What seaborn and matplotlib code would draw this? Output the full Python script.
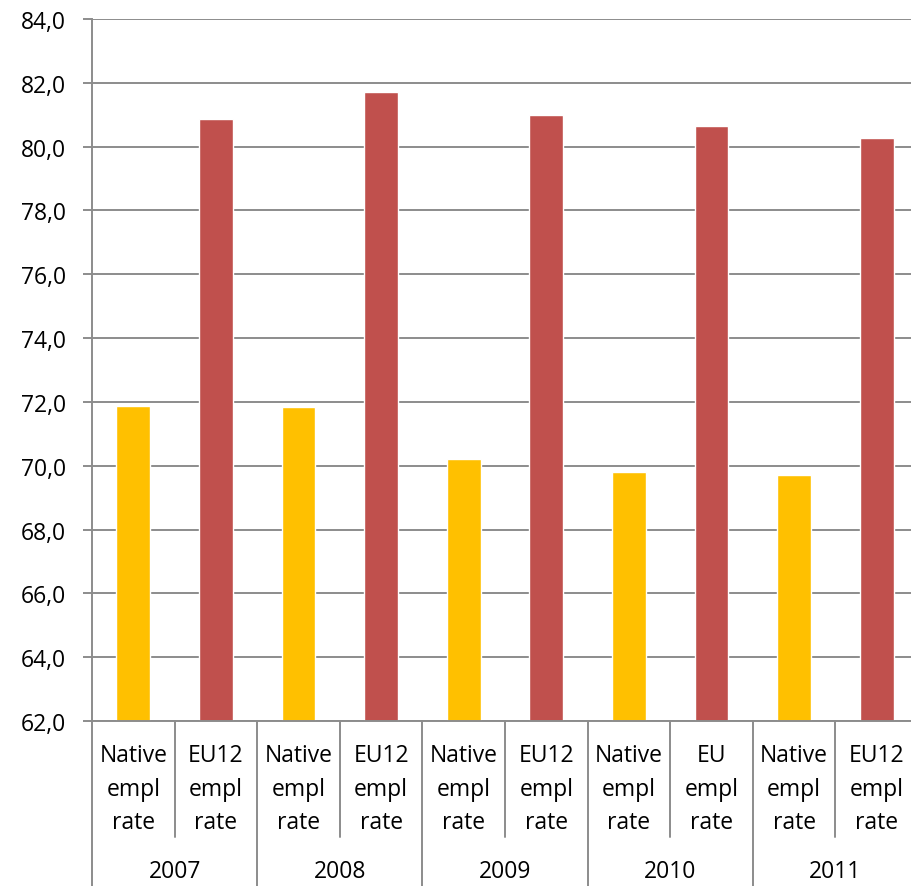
import matplotlib
matplotlib.use("Agg")
import matplotlib.pyplot as plt
import seaborn as sns
import pandas as pd
from matplotlib.ticker import FuncFormatter, MultipleLocator

years = ["2007", "2008", "2009", "2010", "2011"]
series = ["Native", "EU12"]
native_values = [71.87, 71.84, 70.22, 69.81, 69.70]
eu12_values = [80.87, 81.71, 81.00, 80.64, 80.26]
category_labels = [
    ["Native", "empl", "rate"], ["EU12", "empl", "rate"],
    ["Native", "empl", "rate"], ["EU12", "empl", "rate"],
    ["Native", "empl", "rate"], ["EU12", "empl", "rate"],
    ["Native", "empl", "rate"], ["EU", "empl", "rate"],
    ["Native", "empl", "rate"], ["EU12", "empl", "rate"],
]
colors = {"Native": "#FFC000", "EU12": "#C0504D"}

rows = []
for i, y in enumerate(years):
    rows.append({"pos": 2 * i, "series": "Native", "value": native_values[i]})
    rows.append({"pos": 2 * i + 1, "series": "EU12", "value": eu12_values[i]})
df = pd.DataFrame(rows)

sns.set_theme(style="white")
plt.rcParams["font.family"] = ["Open Sans", "DejaVu Sans"]
FS = 16.5

W, H = 912, 887
fig = plt.figure(figsize=(W / 100, H / 100), dpi=100)
left, right, bottom, top = 92, 918, 722, 20
ax = fig.add_axes([left / W, (H - bottom) / H, (right - left) / W, (bottom - top) / H])

sns.barplot(data=df, x="pos", y="value", hue="series", palette=colors,
            dodge=False, width=0.41, ax=ax, legend=False, saturation=1,
            order=list(range(10)))

ax.set_ylim(62, 84)
ax.set_xlim(-0.5, 9.5)
ax.yaxis.set_major_locator(MultipleLocator(2))
ax.yaxis.set_major_formatter(FuncFormatter(lambda v, p: f"{v:.1f}".replace(".", ",")))
ax.set_xlabel("")
ax.set_ylabel("")
ax.set_xticks([])

grid_c = "#8C8C8C"
ax.grid(axis="y", color=grid_c, linewidth=1.4)
ax.set_axisbelow(True)
for s in ["top", "right"]:
    ax.spines[s].set_visible(False)
for s in ["left", "bottom"]:
    ax.spines[s].set_color(grid_c)
    ax.spines[s].set_linewidth(1.4)
ax.tick_params(axis="y", which="major", left=True, length=6.5, width=1.4,
               color=grid_c, pad=12, labelsize=FS, labelcolor="black")

ax_h = bottom - top
tr = ax.get_xaxis_transform()
# category separators
for i in range(9):
    x = i + 0.5
    y_end = -165 / ax_h if i % 2 == 1 else -116 / ax_h
    ax.plot([x, x], [0, y_end], transform=tr, color=grid_c, lw=1.4, clip_on=False)
ax.plot([-0.5, -0.5], [0, -165 / ax_h], transform=tr, color=grid_c, lw=1.4, clip_on=False)

line_centers = [756, 790, 823]
for i, lines in enumerate(category_labels):
    for ln, yc in zip(lines, line_centers):
        ax.text(i, -(yc - bottom) / ax_h, ln, transform=tr, ha="center", va="center",
                fontsize=FS, color="black")
for i, y in enumerate(years):
    ax.text(2 * i + 0.5, -(872 - bottom) / ax_h, y, transform=tr, ha="center",
            va="center", fontsize=FS, color="black")

fig.savefig("out.png", dpi=100)
